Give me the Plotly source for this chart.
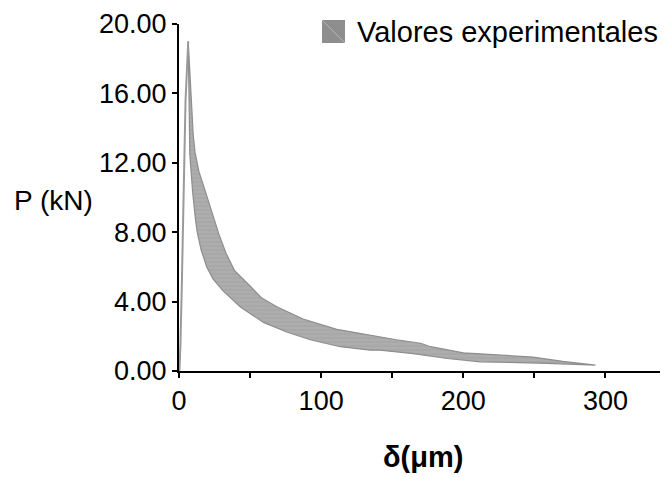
import plotly.graph_objects as go

# Loading branch (rise to peak)
delta_rise = [0.3, 1.0, 2.0, 2.8, 3.5, 4.6, 6.5]
P_rise = [0.0, 1.5, 5.0, 9.0, 12.5, 15.6, 19.0]

# Upper envelope of experimental band (peak -> end)
delta_upper = [6.5, 7.7, 8.9, 10.0, 11.3, 14.0, 18.0, 21.0, 24.5, 28.0, 33.0, 39.0, 50.0, 58.3, 68.8,
               87.3, 111.0, 134.5, 153.0, 170.0, 177.0, 200.0, 220.0, 235.0, 249.0, 270.0, 293.0]
P_upper = [19.0, 17.2, 15.3, 13.6, 12.6, 11.5, 10.5, 9.7, 8.9, 7.9, 6.8, 5.8, 4.9, 4.2, 3.7,
           3.0, 2.4, 2.05, 1.8, 1.6, 1.4, 1.05, 0.95, 0.9, 0.8, 0.55, 0.38]

# Lower envelope of experimental band (peak -> end)
delta_lower = [6.5, 6.8, 7.2, 7.6, 9.6, 11.5, 12.8, 15.5, 19.5, 24.0, 31.2, 43.0, 59.4, 75.8,
               92.3, 113.4, 134.5, 141.5, 164.8, 188.7, 212.0, 235.0, 259.0, 293.0]
P_lower = [19.0, 16.2, 14.3, 12.5, 10.3, 8.8, 8.0, 7.0, 6.0, 5.3, 4.6, 3.7, 2.8, 2.25,
           1.8, 1.4, 1.2, 1.2, 1.0, 0.72, 0.53, 0.47, 0.44, 0.34]

x_ticks = [0, 100, 200, 300]
y_ticks = [0, 4, 8, 12, 16, 20]

FONT = "Liberation Sans, Arial, sans-serif"

# page body has an 8px default margin; figure is sized so it fills the window
W, H = 660, 471
L, T, B = 171, 16, 108
PW, PH = W - L, H - T - B


def px(x):  # window x -> paper x
    return (x - 8 - L) / PW


def py(y):  # window y -> paper y
    return (H - B - (y - 8)) / PH


poly_x = delta_upper + delta_lower[::-1]
poly_y = P_upper + P_lower[::-1]

fig = go.Figure()
fig.add_trace(go.Scatter(
    x=poly_x, y=poly_y, mode="lines", fill="toself",
    fillcolor="#ababab",
    fillpattern=dict(shape="-", bgcolor="#adadad", fgcolor="#979797", size=4, solidity=0.25),
    line=dict(color="#8e8e8e", width=1.2),
    name="Valores experimentales", showlegend=False, hoverinfo="skip"))
fig.add_trace(go.Scatter(
    x=delta_rise, y=P_rise, mode="lines",
    line=dict(color="#9a9a9a", width=2), showlegend=False, hoverinfo="skip"))

fig.update_layout(
    width=W, height=H,
    margin=dict(l=L, r=0, t=T, b=B, autoexpand=False),
    paper_bgcolor="white", plot_bgcolor="white",
    font=dict(family=FONT, size=28, color="black"),
    xaxis=dict(range=[0, 344], tickvals=x_ticks, ticktext=[str(v) for v in x_ticks],
               showgrid=False, zeroline=False, showline=True, linecolor="black", linewidth=2,
               ticks="outside", ticklen=5, tickwidth=2, tickcolor="black",
               minor=dict(dtick=50, ticks="outside", ticklen=5, tickwidth=2, tickcolor="black"),
               tickfont=dict(size=27), ticklabeloverflow="allow", fixedrange=True),
    yaxis=dict(range=[0, 20], tickvals=y_ticks, ticktext=["%.2f" % v for v in y_ticks],
               showgrid=False, zeroline=False, showline=True, linecolor="black", linewidth=2,
               ticks="outside", ticklen=5, tickwidth=2, tickcolor="black",
               tickfont=dict(size=27), ticklabeloverflow="allow", fixedrange=True),
    showlegend=False,
)

# Axis titles
fig.add_annotation(text="P (kN)", xref="paper", yref="paper", x=px(53), y=py(200),
                   showarrow=False, font=dict(size=28), xanchor="center", yanchor="middle")
fig.add_annotation(text="<b>δ(μm)</b>", xref="paper", yref="paper", x=px(423), y=py(457),
                   showarrow=False, font=dict(size=29), xanchor="center", yanchor="middle")

# Legend (manual)
fig.add_shape(type="rect", xref="paper", yref="paper",
              x0=px(322), x1=px(345), y0=py(43), y1=py(20),
              fillcolor="#8e8e8e", line=dict(width=0))
fig.add_shape(type="line", xref="paper", yref="paper",
              x0=px(322), x1=px(345), y0=py(20), y1=py(43),
              line=dict(color="#b5b5b5", width=1))
fig.add_annotation(text="Valores experimentales", xref="paper", yref="paper",
                   x=px(355), y=py(32), showarrow=False,
                   font=dict(size=29), xanchor="left", yanchor="middle")

fig.write_html("out.html")
